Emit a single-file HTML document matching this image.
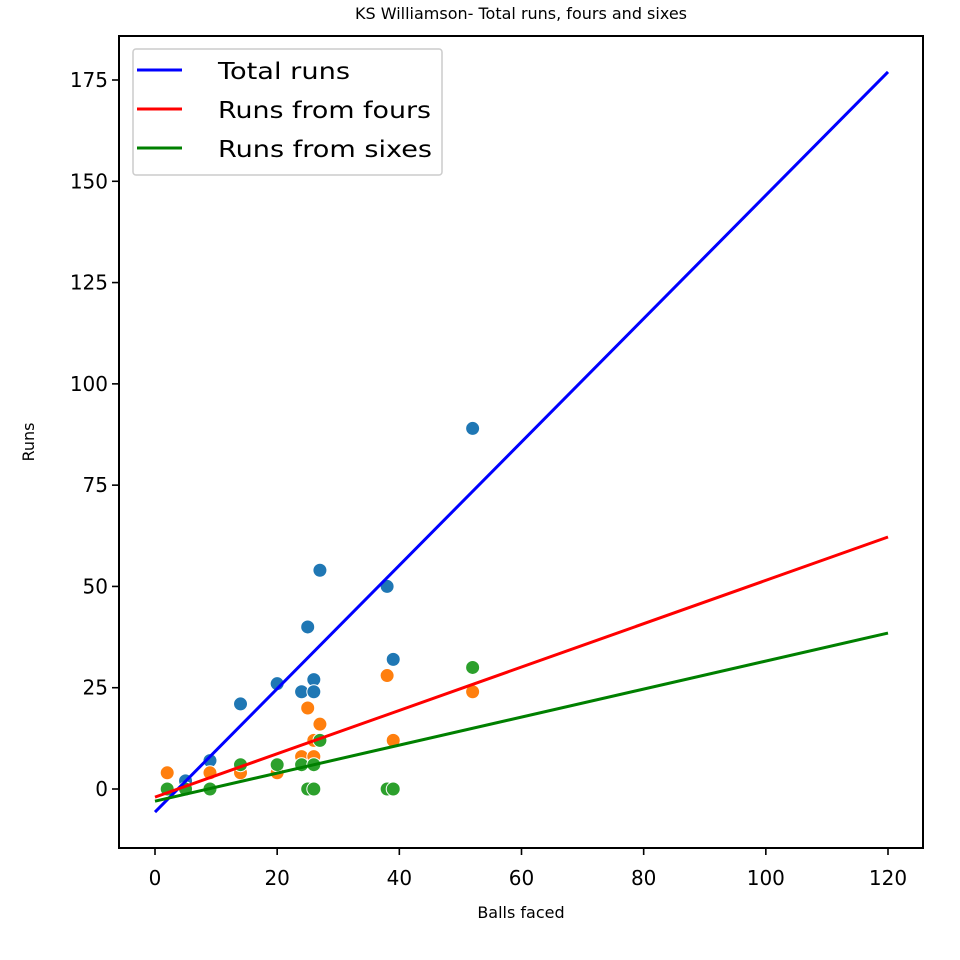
<!DOCTYPE html>
<html><head><meta charset="utf-8"><style>
body{margin:0;background:#fff;}
svg{display:block;font-family:"DejaVu Sans","Liberation Sans",sans-serif;}
</style></head><body>
<svg id="chart" width="960" height="960" viewBox="0 0 960 960">
<rect x="0" y="0" width="960" height="960" fill="#fff"/>
<g id="marks"></g>
<g id="axes"></g>
</svg>
<script>
const balls=[2,5,9,14,20,24,25,26,26,27,38,39,52];
const totalRuns=[4,2,7,21,26,24,40,27,24,54,50,32,89];
const foursRuns=[4,0,4,4,4,8,20,8,12,16,28,12,24];
const sixesRuns=[0,0,0,6,6,6,0,0,6,12,0,0,30];
const lineIntercepts=[-5.7,-2.0,-3.0];
const lineSlopes=[1.5225,0.535,0.3458];
const lineNames=['Total runs','Runs from fours','Runs from sixes'];
const xTicks=[0,20,40,60,80,100,120];
const yTicks=[0,25,50,75,100,125,150,175];

const NS='http://www.w3.org/2000/svg';
const L=119,R=923,T=36,B=848;
const X=v=>155+v*(888-155)/120;
const Y=v=>789-v*(789-80)/175;
function mk(tag,attrs,parent){const e=document.createElementNS(NS,tag);for(const k in attrs)e.setAttribute(k,attrs[k]);parent.appendChild(e);return e;}
const marks=document.getElementById('marks'),axes=document.getElementById('axes');

const ptColors=['#1f77b4','#ff7f0e','#2ca02c'];
const series=[totalRuns,foursRuns,sixesRuns];
const sNames=['total-runs','fours-runs','sixes-runs'];
series.forEach((s,si)=>{
  s.forEach((v,i)=>{
    const c=mk('circle',{cx:X(balls[i]),cy:Y(v),r:7,fill:ptColors[si],stroke:'#fff','stroke-width':1},marks);
    
    
  });
});
const lineColors=['#0000ff','#ff0000','#008000'];
const lineKeys=['total-runs-line','fours-runs-line','sixes-runs-line'];
lineIntercepts.forEach((b,i)=>{
  const l=mk('line',{x1:X(0),y1:Y(b),x2:X(120),y2:Y(b+lineSlopes[i]*120),stroke:lineColors[i],'stroke-width':3},marks);
  
  
});

const frame=mk('rect',{x:L,y:T,width:R-L,height:B-T,fill:'none',stroke:'#000','stroke-width':2},axes);


xTicks.forEach(t=>{
  mk('line',{x1:X(t),y1:B,x2:X(t),y2:B+7,stroke:'#000','stroke-width':1.6},axes);
  const tx=mk('text',{x:X(t),y:B+37,'font-size':20,'text-anchor':'middle',fill:'#000'},axes);
  tx.textContent=t;
  
  
});
yTicks.forEach(t=>{
  mk('line',{x1:L-7,y1:Y(t),x2:L,y2:Y(t),stroke:'#000','stroke-width':1.6},axes);
  const tx=mk('text',{x:L-11,y:Y(t)+7,'font-size':20,'text-anchor':'end',fill:'#000'},axes);
  tx.textContent=t;
  
  
});
const title=mk('text',{x:521,y:19,'font-size':16,'text-anchor':'middle',fill:'#000'},axes);
title.textContent='KS Williamson- Total runs, fours and sixes';


const xl=mk('text',{x:521,y:918,'font-size':16,'text-anchor':'middle',fill:'#000'},axes);
xl.textContent='Balls faced';


const yl=mk('text',{x:34,y:442,'font-size':16,'text-anchor':'middle',fill:'#000',transform:'rotate(-90 34 442)'},axes);
yl.textContent='Runs';



const lg=mk('g',{},axes);


mk('rect',{x:133,y:49,width:309,height:126,rx:3,fill:'#fff','fill-opacity':0.8,stroke:'#ccc','stroke-width':1.5},lg);
const legendLens=[132,213,214];
lineNames.forEach((n,i)=>{
  const y=70+i*39;
  mk('line',{x1:137,y1:y,x2:182,y2:y,stroke:lineColors[i],'stroke-width':3},lg);
  const t=mk('text',{x:218,y:y+9,'font-size':23,fill:'#000',textLength:legendLens[i],lengthAdjust:'spacingAndGlyphs'},lg);
  t.textContent=n;
  
  
});
</script>
</body></html>
